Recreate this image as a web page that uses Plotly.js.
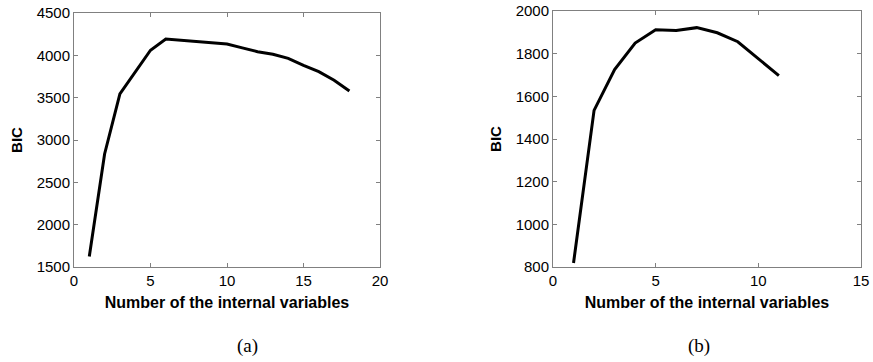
<!DOCTYPE html>
<html>
<head>
<meta charset="utf-8">
<script src="https://cdn.plot.ly/plotly-3.0.1.min.js"></script>
<style>html,body{margin:0;padding:0;background:#fff}#chart{width:873px;height:362px}</style>
</head>
<body>
<div id="chart"></div>
<script>
const xA = [1,2,3,4,5,6,7,8,9,10,11,12,13,14,15,16,17,18];
const bicA = [1625,2835,3545,3800,4060,4192,4177,4165,4146,4134,4088,4043,4012,3965,3882,3807,3705,3578];
const xB = [1,2,3,4,5,6,7,8,9,10,11];
const bicB = [819,1534,1725,1850,1912,1909,1922,1898,1856,1777,1697];
const xTicksA = [0,5,10,15,20];
const yTicksA = [1500,2000,2500,3000,3500,4000,4500];
const xTicksB = [0,5,10,15];
const yTicksB = [800,1000,1200,1400,1600,1800,2000];
const xTitle = 'Number of the internal variables';
const yTitle = 'BIC';
const captions = ['(a)', '(b)'];

const lineStyle = {color:'#000', width:3};
const data = [
  {x:xA, y:bicA, type:'scatter', mode:'lines', line:lineStyle, xaxis:'x', yaxis:'y', hoverinfo:'none'},
  {x:xB, y:bicB, type:'scatter', mode:'lines', line:lineStyle, xaxis:'x2', yaxis:'y2', hoverinfo:'none'}
];
const tickFont = {family:'Liberation Sans, Arial, sans-serif', size:15, color:'#000'};
const xTitleFont = {family:'Liberation Sans, Arial, sans-serif', size:16, color:'#000', weight:'bold'};
const yTitleFont = {family:'Liberation Sans, Arial, sans-serif', size:15, color:'#000', weight:'bold'};
function ax(extra){
  return Object.assign({
    showline:true, linecolor:'#808080', linewidth:1, mirror:'ticks',
    ticks:'inside', ticklen:4, tickcolor:'#808080', tickwidth:1,
    showgrid:false, zeroline:false, tickfont:tickFont, tickmode:'array'
  }, extra);
}
const layout = {
  width:873, height:362, margin:{l:0,r:0,t:0,b:0},
  paper_bgcolor:'#fff', plot_bgcolor:'#fff', showlegend:false,
  xaxis: ax({domain:[74/873, 380/873], range:[0,20], tickvals:xTicksA, anchor:'y',
    title:{text:xTitle, font:xTitleFont, standoff:8}}),
  yaxis: ax({domain:[1-267/362, 1-13/362], range:[1500,4500], tickvals:yTicksA, anchor:'x',
    title:{text:yTitle, font:yTitleFont, standoff:10}}),
  xaxis2: ax({domain:[553/873, 861/873], range:[0,15], tickvals:xTicksB, anchor:'y2',
    title:{text:xTitle, font:xTitleFont, standoff:8}}),
  yaxis2: ax({domain:[1-267/362, 1-11/362], range:[800,2000], tickvals:yTicksB, anchor:'x2',
    title:{text:yTitle, font:yTitleFont, standoff:10}}),
  annotations: [
    {text:captions[0], xref:'paper', yref:'paper', x:235/873, y:1-346/362, showarrow:false, yanchor:'middle',
     font:{family:'Liberation Serif, Times New Roman, serif', size:19, color:'#000'}},
    {text:captions[1], xref:'paper', yref:'paper', x:712/873, y:1-346/362, showarrow:false, yanchor:'middle',
     font:{family:'Liberation Serif, Times New Roman, serif', size:19, color:'#000'}}
  ]
};
Plotly.newPlot('chart', data, layout, {staticPlot:true, displayModeBar:false});
</script>
</body>
</html>
